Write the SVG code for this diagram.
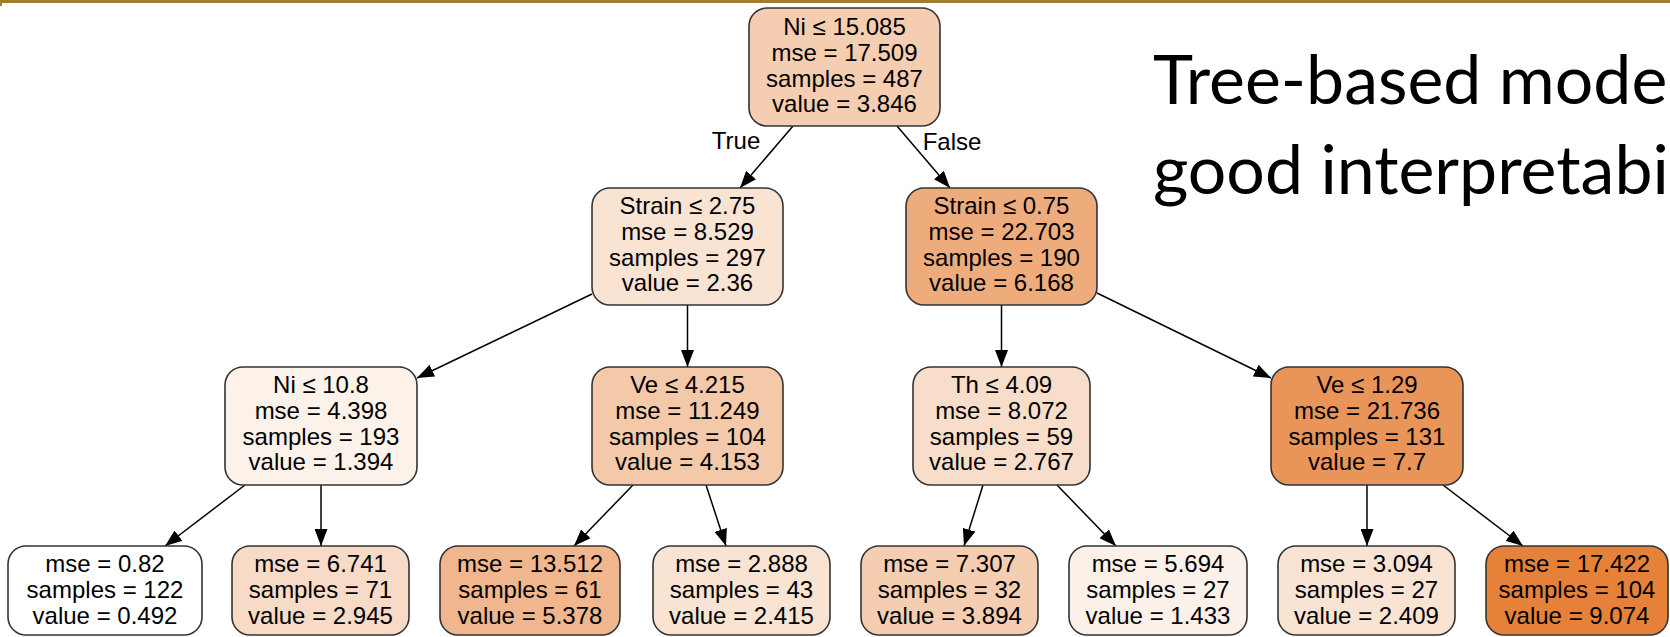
<svg xmlns="http://www.w3.org/2000/svg" width="1670" height="637" viewBox="0 0 1670 637">
<style>
.n rect{stroke:#333;stroke-width:1.6}
.n text,.lbl{font-family:"Liberation Sans",Arial,sans-serif;font-size:24px;fill:#000;text-anchor:middle}
.e line{stroke:#000;stroke-width:1.5;marker-end:url(#ah)}
.title{font-family:Lato,"Open Sans",sans-serif;font-size:68px;fill:#000}
</style>
<defs>
<marker id="ah" markerUnits="userSpaceOnUse" markerWidth="18" markerHeight="13" refX="17" refY="6.5" orient="auto">
<path d="M0,0 L17,6.5 L0,13 z" fill="#000"/>
</marker>
</defs>
<rect x="0" y="0" width="1670" height="637" fill="#fff"/>
<rect x="0" y="0" width="1670" height="3" fill="#A27D2E"/>
<rect x="0" y="0" width="2" height="6" fill="#A27D2E"/>

<text class="title" x="1153" y="104">Tree-based mode</text>
<text class="title" x="1153" y="194">good interpretabi</text>

<g id="edges" class="e">
<line x1="793" y1="126" x2="740" y2="188"/>
<line x1="897" y1="126" x2="950" y2="188"/>
<line x1="592" y1="294" x2="417" y2="378"/>
<line x1="687.5" y1="305" x2="687.5" y2="367"/>
<line x1="1001.5" y1="305" x2="1001.5" y2="367"/>
<line x1="1097" y1="293" x2="1271" y2="378"/>
<line x1="245" y1="485" x2="165" y2="546"/>
<line x1="321" y1="485" x2="321" y2="546"/>
<line x1="633" y1="485" x2="574" y2="546"/>
<line x1="706" y1="485" x2="726" y2="546"/>
<line x1="983" y1="485" x2="964" y2="546"/>
<line x1="1057" y1="485" x2="1116" y2="546"/>
<line x1="1367" y1="485" x2="1367" y2="546"/>
<line x1="1443" y1="485" x2="1523" y2="546"/>
<text class="lbl" x="736" y="149">True</text>
<text class="lbl" x="952" y="150">False</text>
</g>

<g id="n0" class="n">
<rect x="749" y="8" width="191" height="118" rx="18" fill="#F5CEB2"/>
<text x="844.5" y="35">Ni ≤ 15.085</text>
<text x="844.5" y="61">mse = 17.509</text>
<text x="844.5" y="87">samples = 487</text>
<text x="844.5" y="112">value = 3.846</text>
</g>
<g id="n1" class="n">
<rect x="592" y="188" width="191" height="117" rx="18" fill="#F9E4D4"/>
<text x="687.5" y="214">Strain ≤ 2.75</text>
<text x="687.5" y="240">mse = 8.529</text>
<text x="687.5" y="266">samples = 297</text>
<text x="687.5" y="291">value = 2.36</text>
</g>
<g id="n2" class="n">
<rect x="906" y="188" width="191" height="117" rx="18" fill="#EEAC7C"/>
<text x="1001.5" y="214">Strain ≤ 0.75</text>
<text x="1001.5" y="240">mse = 22.703</text>
<text x="1001.5" y="266">samples = 190</text>
<text x="1001.5" y="291">value = 6.168</text>
</g>
<g id="n3" class="n">
<rect x="225" y="367" width="192" height="118" rx="18" fill="#FCF2EA"/>
<text x="321" y="393">Ni ≤ 10.8</text>
<text x="321" y="419">mse = 4.398</text>
<text x="321" y="445">samples = 193</text>
<text x="321" y="470">value = 1.394</text>
</g>
<g id="n4" class="n">
<rect x="592" y="367" width="191" height="118" rx="18" fill="#F4C9AA"/>
<text x="687.5" y="393">Ve ≤ 4.215</text>
<text x="687.5" y="419">mse = 11.249</text>
<text x="687.5" y="445">samples = 104</text>
<text x="687.5" y="470">value = 4.153</text>
</g>
<g id="n5" class="n">
<rect x="913" y="367" width="177" height="118" rx="18" fill="#F8DECA"/>
<text x="1001.5" y="393">Th ≤ 4.09</text>
<text x="1001.5" y="419">mse = 8.072</text>
<text x="1001.5" y="445">samples = 59</text>
<text x="1001.5" y="470">value = 2.767</text>
</g>
<g id="n6" class="n">
<rect x="1271" y="367" width="192" height="118" rx="18" fill="#E99559"/>
<text x="1367" y="393">Ve ≤ 1.29</text>
<text x="1367" y="419">mse = 21.736</text>
<text x="1367" y="445">samples = 131</text>
<text x="1367" y="470">value = 7.7</text>
</g>
<g id="n7" class="n">
<rect x="8" y="546" width="194" height="89" rx="18" fill="#FFFFFF"/>
<text x="105" y="572">mse = 0.82</text>
<text x="105" y="598">samples = 122</text>
<text x="105" y="624">value = 0.492</text>
</g>
<g id="n8" class="n">
<rect x="232" y="546" width="177" height="89" rx="18" fill="#F8DBC6"/>
<text x="320.5" y="572">mse = 6.741</text>
<text x="320.5" y="598">samples = 71</text>
<text x="320.5" y="624">value = 2.945</text>
</g>
<g id="n9" class="n">
<rect x="440" y="546" width="180" height="89" rx="18" fill="#F0B78E"/>
<text x="530" y="572">mse = 13.512</text>
<text x="530" y="598">samples = 61</text>
<text x="530" y="624">value = 5.378</text>
</g>
<g id="n10" class="n">
<rect x="653" y="546" width="177" height="89" rx="18" fill="#F9E3D3"/>
<text x="741.5" y="572">mse = 2.888</text>
<text x="741.5" y="598">samples = 43</text>
<text x="741.5" y="624">value = 2.415</text>
</g>
<g id="n11" class="n">
<rect x="861" y="546" width="177" height="89" rx="18" fill="#F5CDB0"/>
<text x="949.5" y="572">mse = 7.307</text>
<text x="949.5" y="598">samples = 32</text>
<text x="949.5" y="624">value = 3.894</text>
</g>
<g id="n12" class="n">
<rect x="1069" y="546" width="178" height="89" rx="18" fill="#FCF1E9"/>
<text x="1158" y="572">mse = 5.694</text>
<text x="1158" y="598">samples = 27</text>
<text x="1158" y="624">value = 1.433</text>
</g>
<g id="n13" class="n">
<rect x="1278" y="546" width="177" height="89" rx="18" fill="#F9E3D3"/>
<text x="1366.5" y="572">mse = 3.094</text>
<text x="1366.5" y="598">samples = 27</text>
<text x="1366.5" y="624">value = 2.409</text>
</g>
<g id="n14" class="n">
<rect x="1486" y="546" width="182" height="89" rx="18" fill="#E58139"/>
<text x="1577" y="572">mse = 17.422</text>
<text x="1577" y="598">samples = 104</text>
<text x="1577" y="624">value = 9.074</text>
</g>
</svg>
